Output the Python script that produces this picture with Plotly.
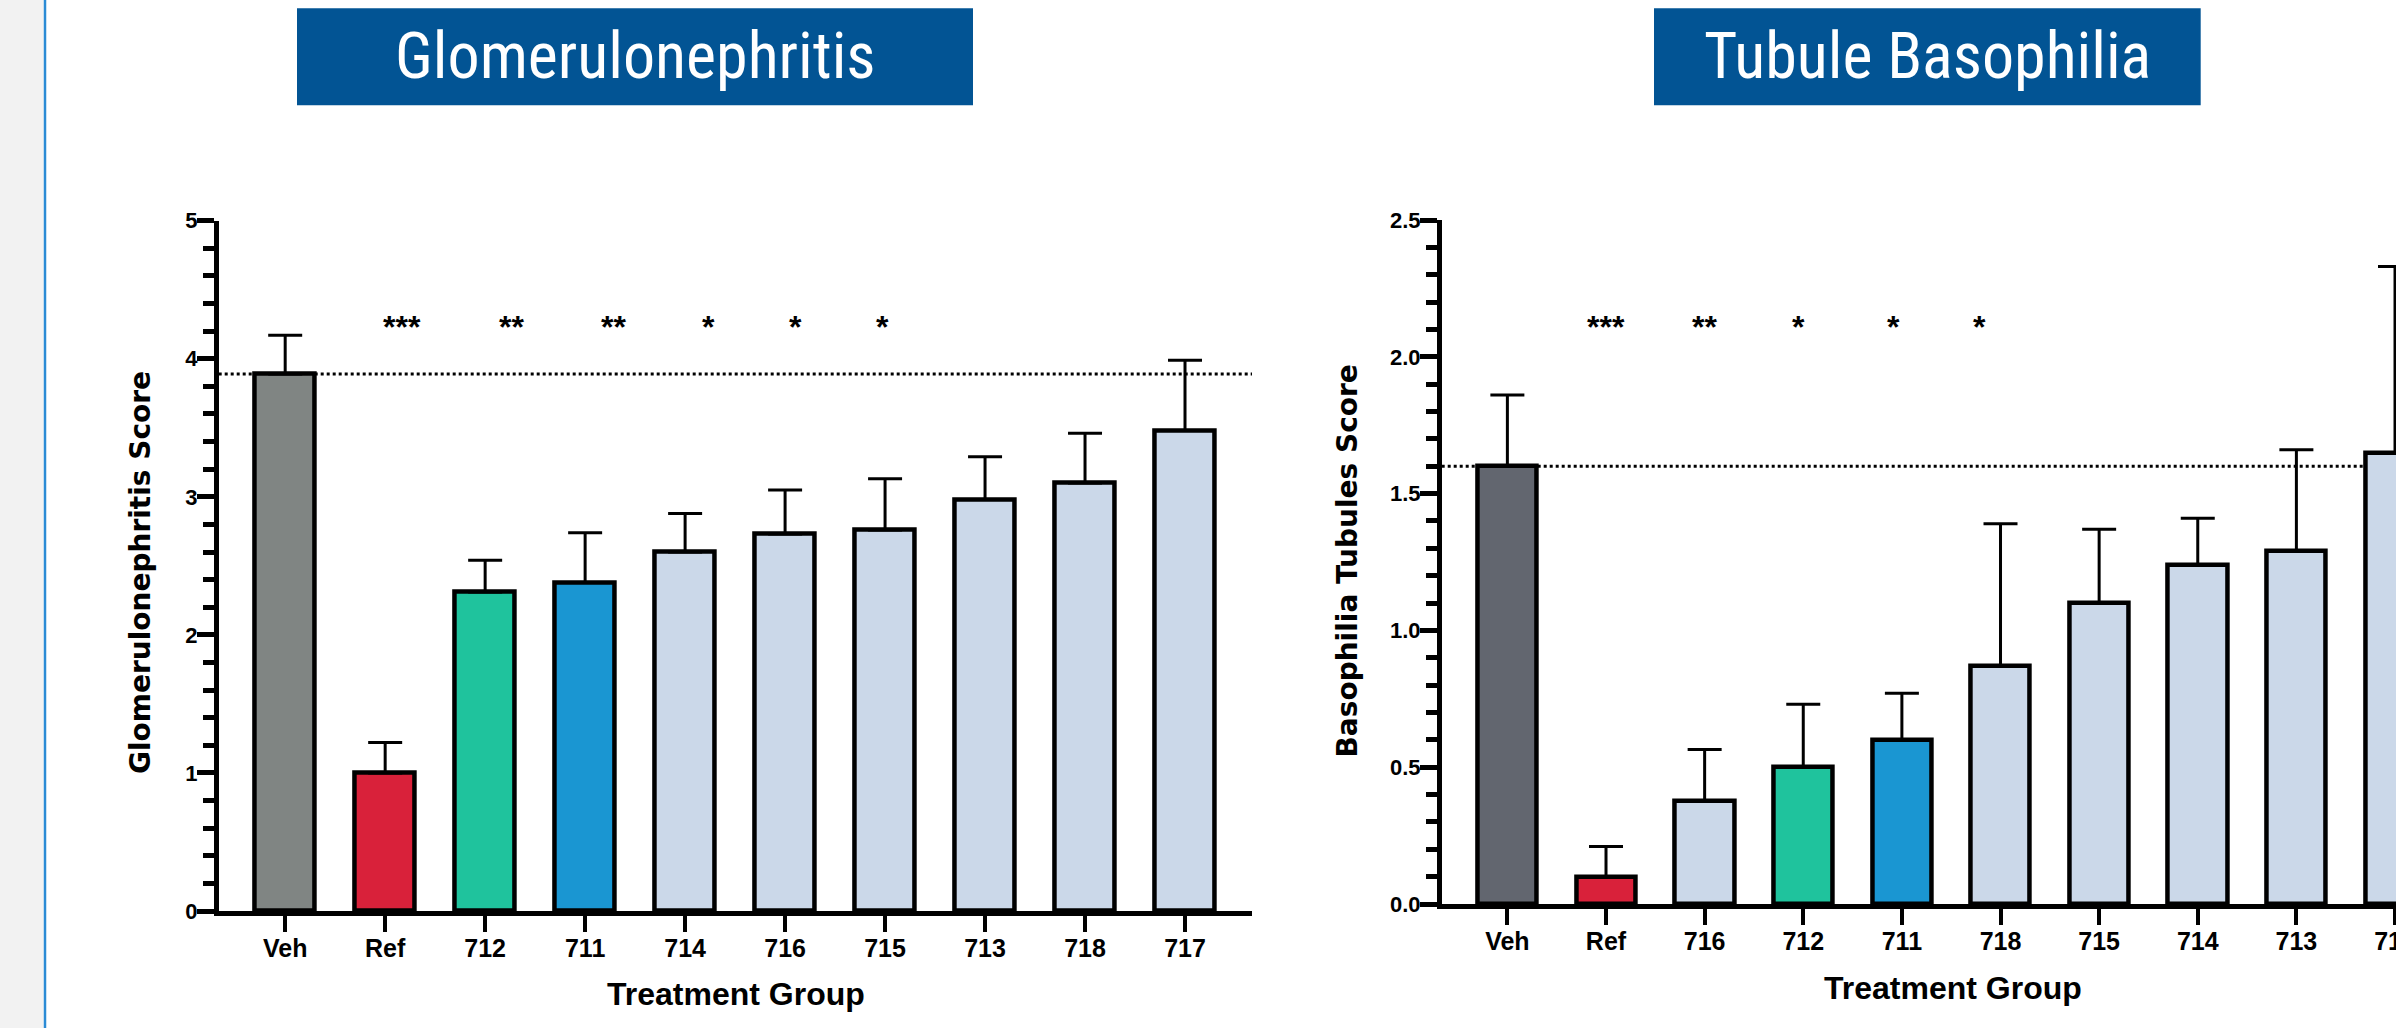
import plotly.graph_objects as go

W, H = 2396, 1028

# ---------------- data ----------------
glom_groups = ["Veh", "Ref", "712", "711", "714", "716", "715", "713", "718", "717"]
glom_mean = [3.89, 1.00, 2.31, 2.38, 2.60, 2.73, 2.76, 2.98, 3.10, 3.48]
glom_upper = [4.17, 1.22, 2.54, 2.74, 2.88, 3.05, 3.13, 3.29, 3.46, 3.99]
glom_stars = ["***", "**", "**", "*", "*", "*"]
glom_star_x = [1.17, 2.265, 3.28, 4.23, 5.10, 5.97]
glom_star_y = 4.275

baso_groups = ["Veh", "Ref", "716", "712", "711", "718", "715", "714", "713", "717"]
baso_mean = [1.60, 0.10, 0.375, 0.50, 0.60, 0.87, 1.10, 1.24, 1.29, 1.65]
baso_upper = [1.86, 0.21, 0.565, 0.73, 0.77, 1.39, 1.37, 1.41, 1.66, 2.33]
baso_stars = ["***", "**", "*", "*", "*"]
baso_star_x = [1.0, 2.0, 2.95, 3.91, 4.79]
baso_star_y = 2.132

titles = ["Glomerulonephritis", "Tubule Basophilia"]
y_titles = ["Glomerulonephritis Score", "Basophilia Tubules Score"]
x_title = "Treatment Group"

# ---------------- styling ----------------
LIGHT = "#cbd8e9"
special_colors = {"Ref": "#d9213a", "712": "#1fc39d", "711": "#1a96d2"}
veh_colors = ["#808583", "#62666f"]
BOX_BLUE = "#025494"
TITLE_FONT = "Roboto Condensed"


def px_x(p):
    return p / W


def px_y(p):
    return 1 - p / H


def bar_colors(groups, veh_color):
    out = []
    for g in groups:
        if g == "Veh":
            out.append(veh_color)
        else:
            out.append(special_colors.get(g, LIGHT))
    return out


fig = go.Figure()

panels = [
    dict(groups=glom_groups, mean=glom_mean, upper=glom_upper, stars=glom_stars,
         star_x=glom_star_x, star_y=glom_star_y, xa="x", ya="y", veh=veh_colors[0]),
    dict(groups=baso_groups, mean=baso_mean, upper=baso_upper, stars=baso_stars,
         star_x=baso_star_x, star_y=baso_star_y, xa="x2", ya="y2", veh=veh_colors[1]),
]

for p in panels:
    idx = list(range(len(p["groups"])))
    plus = [u - m for u, m in zip(p["upper"], p["mean"])]
    fig.add_trace(go.Bar(
        x=idx, y=p["mean"], width=0.6,
        marker=dict(color=bar_colors(p["groups"], p["veh"]),
                    line=dict(color="black", width=4.5)),
        error_y=dict(type="data", symmetric=False, array=plus,
                     arrayminus=[0] * len(plus), thickness=3, width=17,
                     color="black"),
        xaxis=p["xa"], yaxis=p["ya"], showlegend=False, hoverinfo="skip",
    ))
    # dotted reference line at vehicle mean
    fig.add_shape(type="line", xref=p["xa"] + " domain", yref=p["ya"],
                  x0=0, x1=1, y0=p["mean"][0], y1=p["mean"][0],
                  line=dict(color="black", width=3, dash="dot"), layer="below")
    for s, sx in zip(p["stars"], p["star_x"]):
        fig.add_annotation(x=sx, y=p["star_y"], xref=p["xa"], yref=p["ya"],
                           text=s, showarrow=False, yanchor="middle",
                           yshift=-6,
                           font=dict(family="Liberation Sans", size=32, color="black",
                                     weight="bold"))

tickfont = dict(family="Liberation Sans", size=25, color="black", weight="bold")
ytickfont = dict(family="Liberation Sans", size=22, color="black", weight="bold")

common_x = dict(showline=True, linewidth=4.5, linecolor="black", ticks="outside",
                ticklen=16, tickwidth=4, tickcolor="black", showgrid=False,
                zeroline=False, tickfont=tickfont, fixedrange=True, automargin=False,
                ticklabelstandoff=-5, ticklabeloverflow="allow")
common_y = dict(showline=True, linewidth=4.5, linecolor="black", ticks="outside",
                ticklen=17, tickwidth=4.5, tickcolor="black", showgrid=False,
                zeroline=False, tickfont=ytickfont, fixedrange=True, automargin=False,
                ticklabelstandoff=-5)

fig.update_layout(
    width=W, height=H,
    margin=dict(l=0, r=0, t=0, b=0, pad=0),
    paper_bgcolor="white", plot_bgcolor="rgba(0,0,0,0)",
    bargap=0,
    xaxis=dict(domain=[px_x(218.7), px_x(1252)], anchor="y",
               range=[-0.665, 9.67], tickvals=list(range(len(glom_groups))),
               ticktext=glom_groups, **common_x),
    yaxis=dict(domain=[px_y(911), px_y(220.7)], anchor="x", range=[0, 5],
               tick0=0, dtick=1,
               minor=dict(dtick=0.2, ticks="outside", ticklen=11, tickwidth=4.5,
                          tickcolor="black", showgrid=False),
               **common_y),
    xaxis2=dict(domain=[px_x(1441.7), 1.0], anchor="y2",
                range=[-0.666, 9.01], tickvals=list(range(len(baso_groups))),
                ticktext=baso_groups, **common_x),
    yaxis2=dict(domain=[px_y(904), px_y(220)], anchor="x2", range=[0, 2.5],
                tick0=0, dtick=0.5, tickformat=".1f",
                minor=dict(dtick=0.1, ticks="outside", ticklen=11, tickwidth=4.5,
                           tickcolor="black", showgrid=False),
                **common_y),
)

# left grey strip and blue rule
fig.add_shape(type="rect", xref="paper", yref="paper", x0=0, x1=px_x(43.6),
              y0=0, y1=1, fillcolor="#f2f2f2", line=dict(width=0), layer="below")
fig.add_shape(type="line", xref="paper", yref="paper", x0=px_x(45), x1=px_x(45),
              y0=0, y1=1, line=dict(color="#2b8bd5", width=2.5))

# title boxes
boxes = [(297, 973), (1654, 2200.7)]
for (bx0, bx1), t in zip(boxes, titles):
    fig.add_shape(type="rect", xref="paper", yref="paper",
                  x0=px_x(bx0), x1=px_x(bx1), y0=px_y(105.3), y1=px_y(8.3),
                  fillcolor=BOX_BLUE, line=dict(width=0))
    fig.add_annotation(x=px_x((bx0 + bx1) / 2), y=px_y(56.7), xref="paper", yref="paper",
                       text=t, showarrow=False, xanchor="center", yanchor="middle",
                       font=dict(family=TITLE_FONT, size=64, color="white"))

# y axis titles
for (tx, ty), t in zip([(140, 573), (1347, 561.5)], y_titles):
    fig.add_annotation(x=px_x(tx), y=px_y(ty), xref="paper", yref="paper",
                       text=t, showarrow=False, textangle=-90,
                       xanchor="center", yanchor="middle",
                       font=dict(family="DejaVu Sans", size=28, color="black", weight="bold"))

# x axis titles
for tx, ty in [(736, 994), (1952.5, 988)]:
    fig.add_annotation(x=px_x(tx), y=px_y(ty), xref="paper", yref="paper",
                       text=x_title, showarrow=False, xanchor="center", yanchor="middle",
                       font=dict(family="Liberation Sans", size=32, color="black", weight="bold"))

fig.write_html("out.html")
